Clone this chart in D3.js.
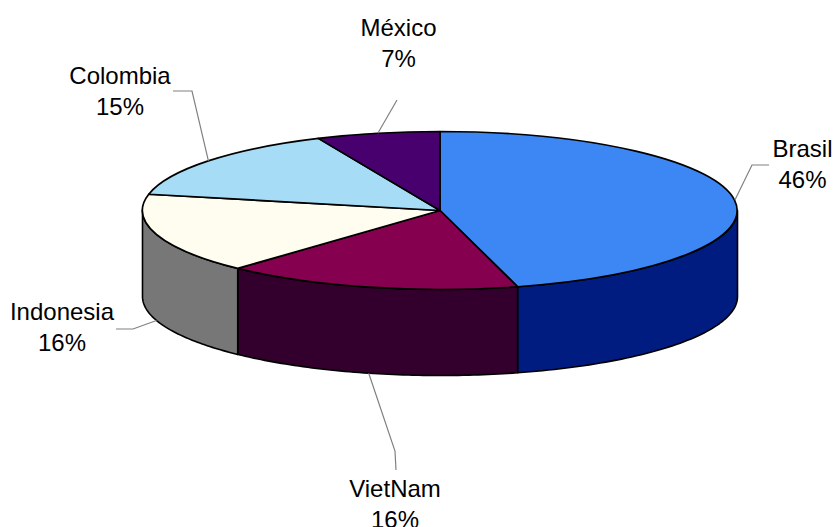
<!DOCTYPE html>
<html>
<head>
<meta charset="utf-8">
<script src="https://cdn.jsdelivr.net/npm/d3@7"></script>
<style>
html,body{margin:0;padding:0;background:#fff;}
svg{display:block;}
text{font-family:"Liberation Sans",Arial,sans-serif;font-size:24px;fill:#000;text-anchor:middle;}
</style>
</head>
<body>
<script>
const categories = ["Brasil","VietNam","Indonesia","Colombia","México"];
const shares = [45.8,16.1,16.4,15.0,6.7];
const percentLabels = ["46%","16%","16%","15%","7%"];
const topColors = ["#3d87f5","#85004f","#fefdf0","#a6dcf6","#47006e"];
const sideColors = ["#001c80","#33002d","#777777","#a6dcf6","#47006e"];
// annotation layout: label centre / first baseline, and leader-line elbow(s)
const labelX = [802.5,395,62,120,398.5];
const labelY = [157,497,320,84,36];
const elbows = [[[752,165],[769,165]],[[395,451],[396,470]],[[133,329],[116,329]],[[192,91],[173,91]],[[397,100]]];
const frontLeader = [false,true,true,false,false];

const W=836,H=527,cx=440,cy=210.5,rx=297.5,ry=79,depth=86;
const svg=d3.select("body").append("svg").attr("width",W).attr("height",H);
const arcs=d3.pie().sort(null).value(d=>d)(shares);
const px=a=>cx+rx*Math.sin(a), py=a=>cy-ry*Math.cos(a);

// side walls (visible half only: PI/2 .. 3PI/2)
const line=d3.line();
arcs.forEach((d,i)=>{
  const a0=Math.max(d.startAngle,Math.PI/2), a1=Math.min(d.endAngle,3*Math.PI/2);
  if(a1<=a0) return;
  const t=d3.range(0,61).map(k=>a0+(a1-a0)*k/60);
  const pts=t.map(a=>[px(a),py(a)]).concat(t.slice().reverse().map(a=>[px(a),py(a)+depth]));
  svg.append("path").attr("d",line(pts)+"Z").attr("fill",sideColors[i])
    .attr("stroke","#000").attr("stroke-width",1.6).attr("stroke-linejoin","round");
});

// top face: d3.arc on a unit circle, squashed to the ellipse
const arc=d3.arc().innerRadius(0).outerRadius(1);
svg.append("g").attr("transform",`translate(${cx},${cy}) scale(${rx},${ry})`)
  .selectAll("path").data(arcs).join("path")
  .attr("d",arc).attr("fill",(d,i)=>topColors[i])
  .attr("stroke","#000").attr("stroke-width",1.7)
  .attr("vector-effect","non-scaling-stroke").attr("stroke-linejoin","round");

// leader lines
arcs.forEach((d,i)=>{
  const m=(d.startAngle+d.endAngle)/2;
  const s=[px(m),py(m)+(frontLeader[i]?depth:0)];
  svg.append("path").attr("d",line([s,...elbows[i]])).attr("fill","none")
    .attr("stroke","#808080").attr("stroke-width",1.2);
});

// labels
categories.forEach((c,i)=>{
  const t=svg.append("text").attr("x",labelX[i]).attr("y",labelY[i]);
  t.append("tspan").attr("x",labelX[i]).text(c);
  t.append("tspan").attr("x",labelX[i]).attr("y",labelY[i]+30.5).text(percentLabels[i]);
});
</script>
</body>
</html>
